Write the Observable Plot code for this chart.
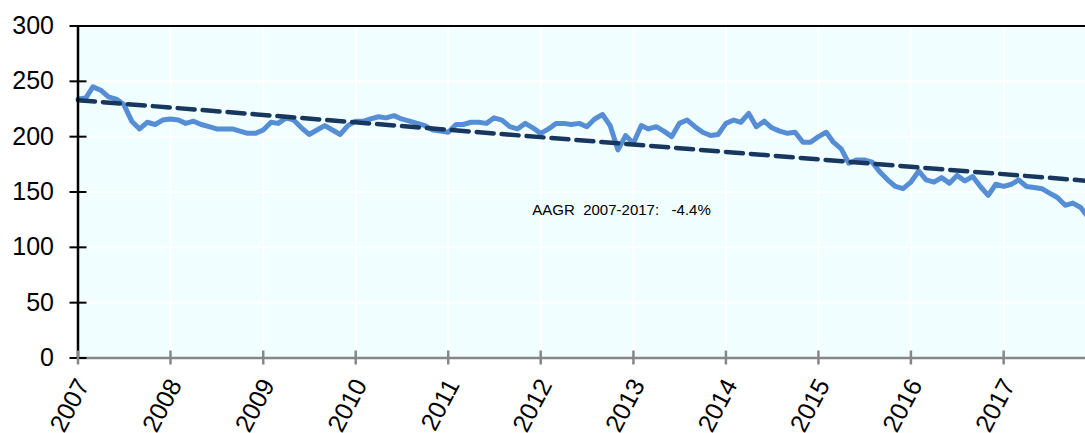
<!DOCTYPE html>
<html><head><meta charset="utf-8">
<script src="https://cdn.jsdelivr.net/npm/d3@7"></script>
<script src="https://cdn.jsdelivr.net/npm/@observablehq/plot@0.6"></script>
<style>
body{margin:0;background:#fff;}
#chart{width:1085px;height:433px;overflow:hidden;}
</style>
</head><body><div id="chart"></div>
<script>
// Monthly values, Jan..Dec of each year
const years = [2007,2008,2009,2010,2011,2012,2013,2014,2015,2016,2017];
const v2007 = [234,235,245,242,236,234,229,214,207,213,211,215];
const v2008 = [216,215,212,214,211,209,207,207,207,205,203,203];
const v2009 = [206,213,212,217,215,208,202,206,210,206,202,210];
const v2010 = [214,214,216,218,217,219,216,214,212,210,206,205];
const v2011 = [204,211,211,213,213,212,217,215,209,207,212,208];
const v2012 = [203,207,212,212,211,212,209,216,220,210,188,201];
const v2013 = [194,210,207,209,205,200,212,215,209,204,201,202];
const v2014 = [212,215,213,221,209,214,208,205,203,204,195,195];
const v2015 = [200,204,195,189,176,179,179,177,168,161,155,153];
const v2016 = [159,169,161,159,163,158,165,160,164,155,147,157];
const v2017 = [155,157,161,155,154,153,149,145,138,140,136,127];
const trendValues = [233, 160];
const yTicks = [0,50,100,150,200,250,300];
const noteText = "AAGR\u00a0\u00a02007-2017:\u00a0\u00a0\u00a0-4.4%";
const noteDate = [2011, 10, 29];
const noteValue = 134;

const series = [v2007,v2008,v2009,v2010,v2011,v2012,v2013,v2014,v2015,v2016,v2017];
const data = [];
years.forEach((yr, i) => series[i].forEach((v, m) => data.push({date: new Date(Date.UTC(yr, m, 1)), value: v})));
const trend = [
  {date: data[0].date, value: trendValues[0]},
  {date: data[data.length - 1].date, value: trendValues[1]}
];
const yearTicks = years.map(y => new Date(Date.UTC(y, 0, 1)));
const xStart = new Date(Date.UTC(2007, 0, 1));
const xEnd = new Date(Date.UTC(2017, 10, 20));
const note = [{date: new Date(Date.UTC(...noteDate)), value: noteValue, text: noteText}];

const font = "'Liberation Sans', Arial, sans-serif";

const chart = Plot.plot({
  width: 1085,
  height: 433,
  marginLeft: 77.5,
  marginRight: 0,
  marginTop: 25.5,
  marginBottom: 75.5,
  style: {fontFamily: font, background: "white", overflow: "hidden", color: "black"},
  x: {type: "utc", domain: [xStart, xEnd], label: null},
  y: {domain: [0, 300], label: null},
  marks: [
    Plot.frame({fill: "#F0FEFF", stroke: "none"}),
    Plot.gridY(yTicks, {stroke: "white", strokeOpacity: 1, strokeWidth: 2}),
    Plot.gridX(yearTicks, {stroke: "white", strokeOpacity: 1, strokeWidth: 2}),
    Plot.lineY(data, {x: "date", y: "value", stroke: "#558ED5", strokeWidth: 5, strokeLinejoin: "round"}),
    Plot.lineY(trend, {x: "date", y: "value", stroke: "#17375E", strokeWidth: 4.5, strokeDasharray: "17,8"}),
    Plot.text(note, {x: "date", y: "value", text: "text", textAnchor: "start", fontSize: 15, fill: "black"}),
    Plot.ruleY([300], {stroke: "black", strokeWidth: 2}),
    Plot.ruleX([xStart], {stroke: "black", strokeWidth: 2.5}),
    Plot.ruleY([0], {stroke: "#868686", strokeWidth: 2.5}),
    Plot.axisY(yTicks, {tickSize: 17, dx: 9, tickFormat: () => "", stroke: "black", strokeWidth: 2, label: null}),
    Plot.axisY(yTicks, {tickSize: 0, tickPadding: 24, fontSize: 25, fill: "black", label: null}),
    Plot.axisX(yearTicks, {tickSize: 14, dy: -7, tickFormat: () => "", stroke: "#868686", strokeWidth: 2.5, label: null}),
    Plot.axisX(yearTicks, {tickSize: 0, tickPadding: 23, dx: 5, tickRotate: -62, fontSize: 25, fill: "black", tickFormat: d3.utcFormat("%Y"), label: null})
  ]
});
document.getElementById("chart").appendChild(chart);
</script>
</body></html>
